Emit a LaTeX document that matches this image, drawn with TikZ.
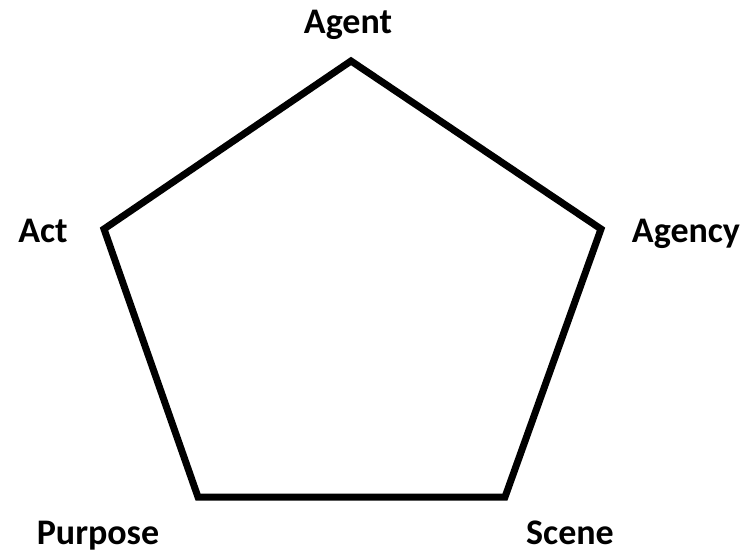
\documentclass[tikz,border=0pt]{standalone}
\usepackage{fontspec}
\setmainfont{Carlito}
\usetikzlibrary{positioning}

\begin{document}
\begin{tikzpicture}[x=1pt, y=-1pt, every node/.style={font=\fontsize{36}{42}\selectfont\bfseries, inner sep=0pt, anchor=base}]
\useasboundingbox (0,0) rectangle (743,552);
\coordinate (agentpt) at (351,61);
\coordinate (agencypt) at (601,229);
\coordinate (scenept) at (505,497);
\coordinate (purposept) at (198,497);
\coordinate (actpt) at (104,229);
\draw[line width=7pt, line join=miter] (agentpt) -- (agencypt) -- (scenept) -- (purposept) -- (actpt) -- cycle;
\node (agent) at (348,33) {Agent};
\node (agency) at (686,242) {Agency};
\node (act) at (43,242) {Act};
\node (purpose) at (98,544) {Purpose};
\node (scene) at (570,544) {Scene};
\end{tikzpicture}
\end{document}
